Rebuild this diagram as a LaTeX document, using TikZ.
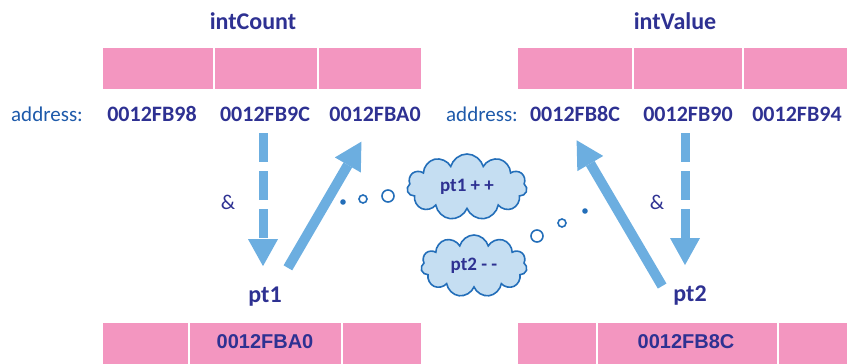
\documentclass[tikz,border=0pt]{standalone}
\usepackage{fontspec}
\setmainfont{Carlito}
\newfontfamily\arialfont{Liberation Sans}
\usetikzlibrary{arrows.meta,shapes.symbols}

\definecolor{cellpink}{HTML}{F396C0}
\definecolor{navy}{HTML}{2E3192}
\definecolor{addrblue}{HTML}{1E5AAA}
\definecolor{arrowblue}{HTML}{6CAEE0}
\definecolor{cloudfill}{HTML}{C5DEF2}
\definecolor{cloudline}{HTML}{236EB9}

\tikzset{
  cell/.style = {fill=cellpink, draw=white, line width=1.2pt},
  lbl/.style = {font=\fontsize{22}{24}\selectfont\bfseries, text=navy, inner sep=2pt},
  title/.style = {lbl, font=\fontsize{24}{26}\selectfont\bfseries},
  addr/.style = {font=\fontsize{21}{24}\selectfont, text=addrblue},
  ptrval/.style = {font=\arialfont\fontsize{20}{22}\selectfont\bfseries, text=navy},
  bigarrow/.style = {draw=arrowblue, line width=10pt, -{Triangle[width=30pt,length=27pt,line width=0pt]}},
  thought/.style = {cloud, cloud puffs=11, cloud ignores aspect, draw=cloudline, fill=cloudfill,
                    line width=1.6pt, text=navy, inner sep=0pt,
                    font=\fontsize{19}{21}\selectfont\bfseries},
  bubble/.style = {draw=cloudline, line width=1.6pt}
}

\begin{document}
\begin{tikzpicture}[x=1pt, y=-1pt]
\useasboundingbox (0,0) rectangle (847,364);

% memory cells
\foreach \a/\b in {102/214, 214/318, 318/422, 517/633, 633/743, 743/850}
   \filldraw[cell] (\a,47) rectangle (\b,90);
\foreach \a/\b in {102/189, 189/342, 342/422, 517/597, 597/778, 778/850}
   \filldraw[cell] (\a,322) rectangle (\b,366);

\node[title] (count) at (253,21) {intCount};
\node[title] (value) at (675,21) {intValue};

% address row
\node[addr] (addrL) at (47,114) {address:};
\node[addr] (addrR) at (482,114) {address:};
\foreach \x/\name/\txt in {152/a98/0012FB98, 265/a9C/0012FB9C, 375/aA0/0012FBA0,
                           575/a8C/0012FB8C, 688/a90/0012FB90, 797/a94/0012FB94}
   \node[lbl] (\name) at (\x,114) {\txt};

% pointers
\node[title] (ptA) at (265,297) {pt1};
\node[title] (ptB) at (690,296) {pt2};
\node[ptrval] (valA) at (265,342) {0012FBA0};
\node[ptrval] (valB) at (686,342) {0012FB8C};

\node[addr, text=navy] (ampA) at (228,202) {\&};
\node[addr, text=navy] (ampB) at (657,202) {\&};

\draw[bigarrow, line width=9pt, dash pattern=on 29pt off 9pt, shorten <=10pt, shorten >=19pt]
   ([xshift=-2pt]a9C.south) -- ([xshift=-2pt]ptA.north);
\draw[bigarrow, line width=9pt, dash pattern=on 29pt off 9pt, shorten <=10pt, shorten >=19pt]
   ([xshift=-3pt]a90.south) -- ([xshift=-5pt]ptB.north);

\draw[bigarrow, shorten <=20pt, shorten >=21pt] ([xshift=-6pt]ptA.north east) -- ([xshift=-3pt]aA0.south);
\draw[bigarrow, shorten >=19pt] ([xshift=-9pt,yshift=-2pt]ptB.north west) -- ([xshift=-8pt]a8C.south);

% thoughts
\node[thought, minimum width=120pt, minimum height=66pt] (incr) at (467,187) {pt1 + +};
\node[thought, minimum width=106pt, minimum height=62pt] (decr) at (474,266) {pt2 - -};

\fill[cloudline] (343,202) circle (2.8pt);
\draw[bubble] (363,199) circle (4pt);
\draw[bubble] (388,196) circle (6pt);

\fill[cloudline] (585,211) circle (2.8pt);
\draw[bubble] (562,223) circle (4pt);
\draw[bubble] (537,236) circle (6pt);
\end{tikzpicture}
\end{document}
